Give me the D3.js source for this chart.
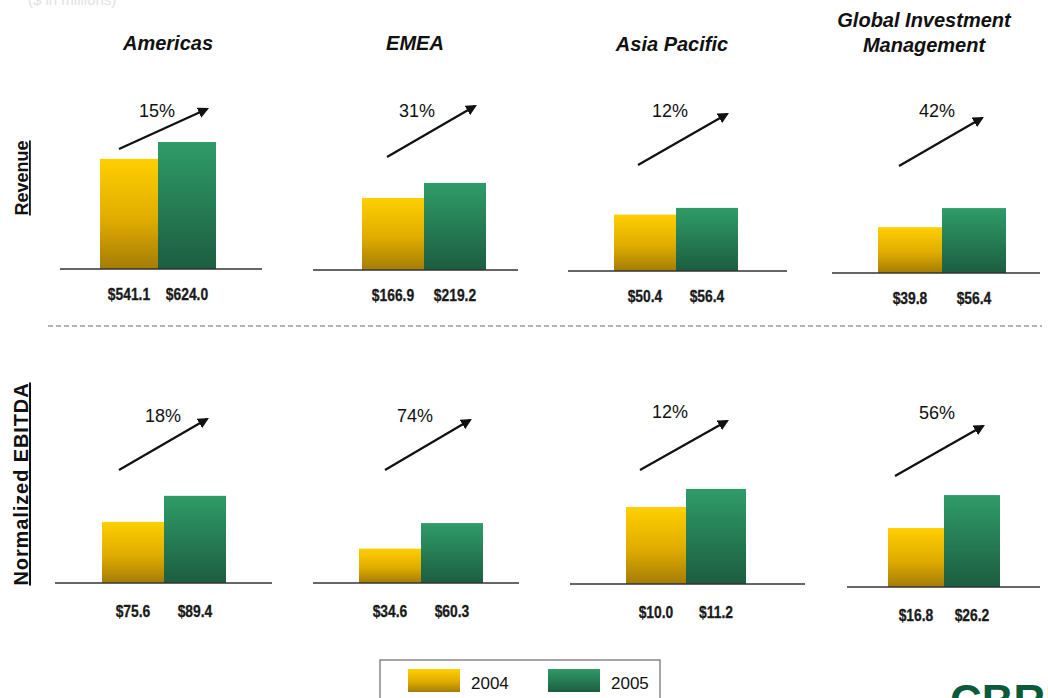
<!DOCTYPE html>
<html>
<head>
<meta charset="utf-8">
<script src="https://cdn.jsdelivr.net/npm/d3@7"></script>
<style>
  html, body { margin: 0; padding: 0; background: #fff; }
  svg { display: block; }
</style>
</head>
<body>
<svg id="chart" width="1048" height="698"></svg>
<script>
// ---------------- DATA ----------------
const regions = ["Americas", "EMEA", "Asia Pacific", "Global Investment Management"];
const regionTitleLines = [["Americas"], ["EMEA"], ["Asia Pacific"], ["Global Investment", "Management"]];
const years = ["2004", "2005"];
const revenue2004 = [541.1, 166.9, 50.4, 39.8];
const revenue2005 = [624.0, 219.2, 56.4, 56.4];
const ebitda2004 = [75.6, 34.6, 10.0, 16.8];
const ebitda2005 = [89.4, 60.3, 11.2, 26.2];
const revenueGrowth = ["15%", "31%", "12%", "42%"];
const ebitdaGrowth = ["18%", "74%", "12%", "56%"];
const rowLabels = ["Revenue", "Normalized EBITDA"];
const legendLabels = ["2004", "2005"];

// ---------------- LAYOUT (not data) ----------------
const plotH = 160;
const rowsLayout = [
  { // Revenue
    v04: revenue2004, v05: revenue2005, growth: revenueGrowth,
    base: [269, 270, 271, 273],
    center: [158, 424, 676, 942],
    halfW: [58, 62, 62, 64],
    axis: [[60, 262], [313, 518], [568, 787], [832, 1040]],
    domain: [[0, 786], [-84, 473], [0, 143], [0, 139]],
    arrowX: [[-39, 49], [-37, 51], [-38, 51], [-43, 40]],
    arrowY: [[149, 109], [157, 106], [165, 114], [166, 118]],
    pctDX: [-1, -7, -6, -5],
    pctY: [111, 111, 111, 111],
    valueDY: 31
  },
  { // Normalized EBITDA
    v04: ebitda2004, v05: ebitda2005, growth: ebitdaGrowth,
    base: [583, 583, 584, 587],
    center: [164, 421, 686, 944],
    halfW: [62, 62, 60, 56],
    axis: [[55, 272], [313, 519], [570, 805], [847, 1040]],
    domain: [[43.2, 128], [0, 161], [4.9, 15.5], [0, 45.6]],
    arrowX: [[-45, 43], [-36, 49], [-46, 41], [-49, 39]],
    arrowY: [[470, 419], [470, 420], [470, 421], [476, 426]],
    pctDX: [-1, -6, -16, -7],
    pctY: [416, 416, 412, 413],
    valueDY: 34
  }
];
const titleX = [168, 415, 672, 924];
const titleY = [50, 50, 51, 27];

const svg = d3.select("#chart");

// gradients
const defs = svg.append("defs");
const g04 = defs.append("linearGradient").attr("id", "grad2004").attr("x1", 0).attr("y1", 0).attr("x2", 0).attr("y2", 1);
g04.append("stop").attr("offset", "0%").attr("stop-color", "#ffcf00");
g04.append("stop").attr("offset", "55%").attr("stop-color", "#e0ac00");
g04.append("stop").attr("offset", "100%").attr("stop-color", "#a47c06");
const g05 = defs.append("linearGradient").attr("id", "grad2005").attr("x1", 0).attr("y1", 0).attr("x2", 0).attr("y2", 1);
g05.append("stop").attr("offset", "0%").attr("stop-color", "#2f9c68");
g05.append("stop").attr("offset", "100%").attr("stop-color", "#1c5d40");
defs.append("marker").attr("id", "arrowhead").attr("viewBox", "0 0 10 10")
  .attr("refX", 8).attr("refY", 5).attr("markerWidth", 5).attr("markerHeight", 5)
  .attr("orient", "auto").attr("markerUnits", "strokeWidth")
  .append("path").attr("d", "M0,0 L10,5 L0,10 Z").attr("fill", "#111");

const fill = { "2004": "url(#grad2004)", "2005": "url(#grad2005)" };

// faint top-left text (cut off at the top edge as in the reference)
svg.append("text").attr("x", 28).attr("y", 5).attr("font-family", "Liberation Sans, Arial, sans-serif")
  .attr("font-size", 15).attr("fill", "#e2e2e2").text("($ in millions)");

// Region titles
regions.forEach((r, i) => {
  const t = svg.append("text").attr("x", titleX[i]).attr("y", titleY[i])
    .attr("text-anchor", "middle")
    .attr("font-family", "Liberation Sans, Arial, sans-serif")
    .attr("font-weight", "bold").attr("font-style", "italic")
    .attr("font-size", 20).attr("fill", "#111");
  regionTitleLines[i].forEach((line, j) => {
    t.append("tspan").attr("x", titleX[i]).attr("dy", j === 0 ? 0 : 25).text(line);
  });
});

// Row labels
const rowLabelCenters = [178, 484];
const rowLabelSize = [18, 20];
const rowLabelSpacing = [0, 0.9];
rowLabels.forEach((lab, i) => {
  svg.append("text")
    .attr("transform", `translate(28,${rowLabelCenters[i]}) rotate(-90)`)
    .attr("text-anchor", "middle")
    .attr("font-family", "Liberation Sans, Arial, sans-serif")
    .attr("font-weight", "bold").attr("font-size", rowLabelSize[i])
    .attr("letter-spacing", rowLabelSpacing[i])
    .attr("text-decoration", "underline")
    .attr("fill", "#111").text(lab);
});

// Dashed separator
svg.append("line").attr("x1", 48).attr("x2", 1042).attr("y1", 326).attr("y2", 326)
  .attr("stroke", "#9a9a9a").attr("stroke-width", 1.5).attr("stroke-dasharray", "5,3");

// Panels
rowsLayout.forEach(row => {
  regions.forEach((r, i) => {
    const vals = [row.v04[i], row.v05[i]];
    const base = row.base[i];
    const c = row.center[i];
    const x = d3.scaleBand().domain(years).range([c - row.halfW[i], c + row.halfW[i]]).padding(0);
    const y = d3.scaleLinear().domain(row.domain[i]).range([base, base - plotH]);
    const g = svg.append("g");

    g.selectAll("rect").data(years).join("rect")
      .attr("x", d => x(d))
      .attr("width", x.bandwidth())
      .attr("y", (d, k) => y(vals[k]))
      .attr("height", (d, k) => base - y(vals[k]))
      .attr("fill", d => fill[d]);

    // baseline axis
    const ax = d3.scaleLinear().range(row.axis[i]);
    g.append("line").attr("x1", ax(0)).attr("x2", ax(1)).attr("y1", base).attr("y2", base)
      .attr("stroke", "#333").attr("stroke-width", 1.5);

    // value labels (narrow bold look)
    g.selectAll("text.val").data(years).join("text").attr("class", "val")
      .attr("transform", d => `translate(${x(d) + x.bandwidth() / 2},${base + row.valueDY}) scale(0.84,1)`)
      .attr("text-anchor", "middle")
      .attr("font-family", "Liberation Sans, Arial, sans-serif")
      .attr("font-weight", "bold").attr("font-size", 16.5).attr("fill", "#1a1a1a")
      .attr("stroke", "#1a1a1a").attr("stroke-width", 0.3)
      .text((d, k) => "$" + vals[k].toFixed(1));

    // growth arrow
    g.append("line")
      .attr("x1", c + row.arrowX[i][0]).attr("y1", row.arrowY[i][0])
      .attr("x2", c + row.arrowX[i][1]).attr("y2", row.arrowY[i][1])
      .attr("stroke", "#111").attr("stroke-width", 2.2)
      .attr("marker-end", "url(#arrowhead)");

    g.append("text").attr("x", c + row.pctDX[i]).attr("y", row.pctY[i] + 6)
      .attr("text-anchor", "middle")
      .attr("font-family", "Liberation Sans, Arial, sans-serif")
      .attr("font-size", 18).attr("fill", "#111")
      .text(row.growth[i]);
  });
});

// Legend (box cut by bottom edge)
const lg = svg.append("g");
lg.append("rect").attr("x", 380).attr("y", 660).attr("width", 280).attr("height", 60)
  .attr("fill", "#fff").attr("stroke", "#888").attr("stroke-width", 1.5);
const lx = d3.scalePoint().domain(legendLabels).range([408, 548]);
legendLabels.forEach(l => {
  lg.append("rect").attr("x", lx(l)).attr("y", 669).attr("width", 52).attr("height", 23)
    .attr("fill", fill[l]);
  lg.append("text").attr("x", lx(l) + 63).attr("y", 689)
    .attr("font-family", "Liberation Sans, Arial, sans-serif")
    .attr("font-size", 17).attr("fill", "#111").text(l);
});

// bottom-left page number and bottom-right logo, both cut by the bottom edge as in the reference
svg.append("text").attr("x", 14).attr("y", 726).attr("font-family", "Liberation Sans, Arial, sans-serif")
  .attr("font-size", 40).attr("fill", "#666").text("100");
svg.append("text").attr("x", 950).attr("y", 716).attr("font-family", "Liberation Sans, Arial, sans-serif")
  .attr("font-weight", "bold").attr("font-size", 44).attr("fill", "#0b5a3a").text("CBRE");
</script>
</body>
</html>
